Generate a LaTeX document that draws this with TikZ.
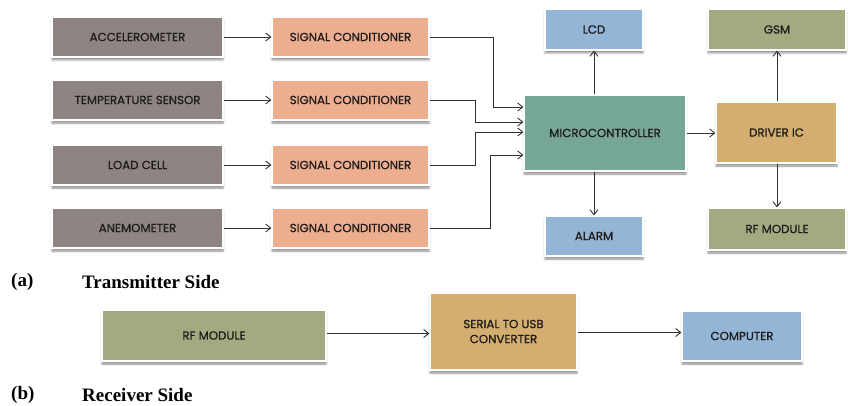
\documentclass[tikz,border=0pt]{standalone}
\usepackage{fontspec}
\setmainfont{Liberation Serif}
\newfontfamily\boxfont[FakeBold=0.8]{Poppins}
\usetikzlibrary{arrows.meta,shadows.blur}

\definecolor{sensorc}{RGB}{142,132,130}
\definecolor{condc}{RGB}{236,174,142}
\definecolor{bluec}{RGB}{148,182,214}
\definecolor{tealc}{RGB}{118,166,150}
\definecolor{tanc}{RGB}{212,174,112}
\definecolor{olivec}{RGB}{164,170,128}
\definecolor{inkc}{RGB}{30,28,28}
\definecolor{wirec}{RGB}{50,50,50}

\tikzset{
  blk/.style={rectangle, draw=white, line width=1.2pt, text=inkc,
    font=\boxfont\fontsize{11.8}{14}\selectfont, align=center, inner sep=0pt,
    blur shadow={shadow xshift=0pt, shadow yshift=-3pt, shadow blur steps=6,
      shadow blur radius=2pt, shadow opacity=45}},
  sensor/.style={blk, fill=sensorc, minimum width=171pt, minimum height=40pt},
  cond/.style={blk, fill=condc, minimum width=157pt, minimum height=40pt},
  wire/.style={draw=wirec, line width=0.9pt, -{Straight Barb[length=5pt,width=8pt]}},
  caption/.style={font=\bfseries\fontsize{19}{22}\selectfont, anchor=west, inner sep=0pt}
}

\begin{document}
\begin{tikzpicture}[x=1pt, y=-1pt]
\useasboundingbox (0,0) rectangle (848,406);

% --- transmitter side: sensors and conditioners
\node[sensor] (s1) at (137.5,37) {ACCELEROMETER};
\node[sensor] (s2) at (137.5,100) {TEMPERATURE SENSOR};
\node[sensor] (s3) at (137.5,165) {LOAD CELL};
\node[sensor] (s4) at (137.5,228) {ANEMOMETER};

\node[cond] (c1) at (350.5,37) {SIGNAL CONDITIONER};
\node[cond] (c2) at (350.5,100) {SIGNAL CONDITIONER};
\node[cond] (c3) at (350.5,165) {SIGNAL CONDITIONER};
\node[cond] (c4) at (350.5,228) {SIGNAL CONDITIONER};

% --- processing and outputs
\node[blk, fill=tealc, minimum width=162pt, minimum height=76pt] (mcu) at (605,133) {MICROCONTROLLER};
\node[blk, fill=bluec, minimum width=98pt, minimum height=41pt] (lcd) at (594,29.5) {LCD};
\node[blk, fill=bluec, minimum width=98pt, minimum height=40pt] (alarm) at (594,236) {ALARM};
\node[blk, fill=tanc, minimum width=121pt, minimum height=61pt] (drv) at (776.5,132.5) {DRIVER IC};
\node[blk, fill=olivec, minimum width=138pt, minimum height=41pt] (gsm) at (777,29.5) {GSM};
\node[blk, fill=olivec, minimum width=138pt, minimum height=42pt] (rft) at (777,229) {RF MODULE};

% --- receiver side
\node[blk, fill=olivec, minimum width=224pt, minimum height=51pt] (rfr) at (214,335.5) {RF MODULE};
\node[blk, fill=tanc, minimum width=147pt, minimum height=77pt] (ser) at (503.5,331.5) {SERIAL TO USB\\[1pt]CONVERTER};
\node[blk, fill=bluec, minimum width=120pt, minimum height=50pt] (pc) at (742,336) {COMPUTER};

% --- captions
\node[caption] (pa) at (11,282) {(a)};
\node[caption] (ta) at (82,282) {Transmitter Side};
\node[caption] (pb) at (11,395) {(b)};
\node[caption] (tb) at (82,395) {Receiver Side};

% --- connectors
\foreach \i in {1,...,4} \draw[wire] (s\i.east) -- (c\i.west);

\draw[wire] (c1.east) -- ++(64,0) |- ([yshift=26pt]mcu.west);
\draw[wire] (c2.east) -- ++(46,0) |- ([yshift=11pt]mcu.west);
\draw[wire] (c3.east) -- ++(46,0) |- ([yshift=1pt]mcu.west);
\draw[wire] (c4.east) -- ++(61,0) |- ([yshift=-22pt]mcu.west);

\draw[wire] (mcu.north -| lcd.south) -- (lcd.south);
\draw[wire] (mcu.south -| alarm.north) -- (alarm.north);
\draw[wire] (mcu.east) -- (mcu.east -| drv.west);
\draw[wire] (drv.north -| gsm.south) -- (gsm.south);
\draw[wire] (drv.south -| rft.north) -- (rft.north);

\draw[wire] ([yshift=2pt]rfr.east) -- ([yshift=2pt]rfr.east -| ser.west);
\draw[wire] ([yshift=-1pt]ser.east) -- ([yshift=-1pt]ser.east -| pc.west);
\end{tikzpicture}
\end{document}
